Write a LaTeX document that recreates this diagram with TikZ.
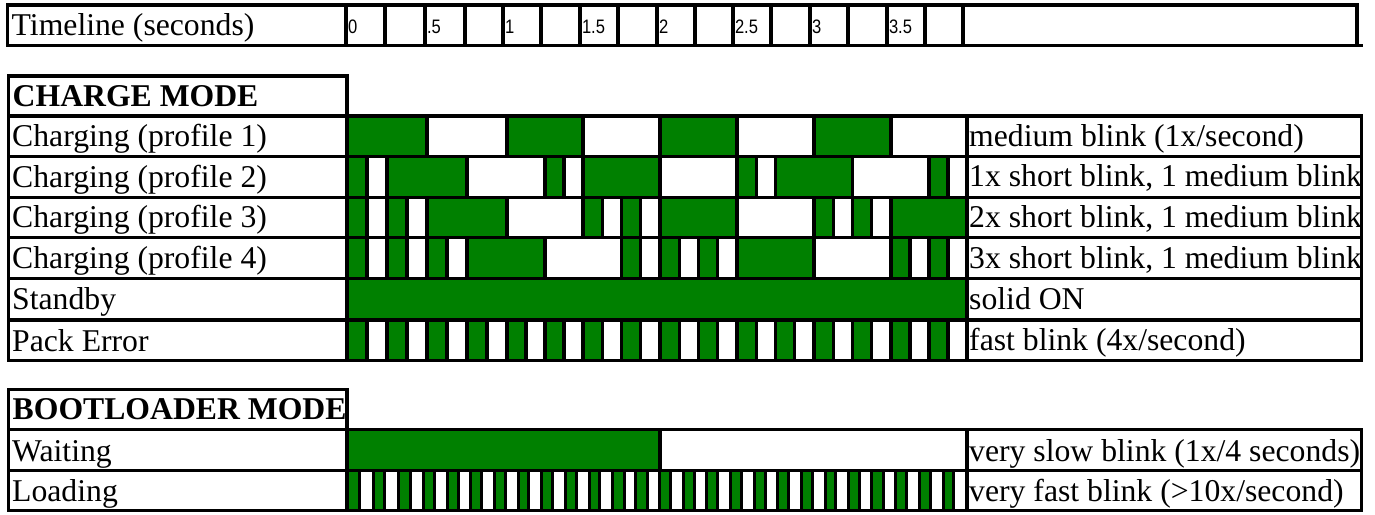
\documentclass[tikz,border=0pt]{standalone}
\usepackage{fontspec}
\usepackage{graphicx}
\setmainfont{Liberation Serif}
\newfontfamily\tickfont{Liberation Sans}
\definecolor{ledgreen}{RGB}{0,128,0}
\tikzset{
  rule/.style={line width=3.2pt, draw=black, line cap=rect},
  lbl/.style={anchor=base west, inner sep=0pt, font=\fontsize{31.7}{36}\selectfont},
  hdr/.style={anchor=base west, inner sep=0pt, font=\fontsize{31.7}{36}\selectfont\bfseries},
  desc/.style={anchor=base west, inner sep=0pt, font=\fontsize{31.7}{36}\selectfont},
  tick/.style={anchor=base west, inner sep=0pt, font=\tickfont\fontsize{19.5}{22}\selectfont},
}
\def\G{{347,367,387,407,427,447,467,487,507,526,545,564,583,602.25,621.5,640.75,660,679.25,698.5,717.75,737,756.25,775.5,794.75,814,833.25,852.5,871.75,891,910,929,948,967}}
\newcommand\ledrow[3]{%
  \foreach \a/\b in {#3} {
    \pgfmathsetmacro\xa{\G[\a]}
    \pgfmathsetmacro\xb{\G[\b]}
    \fill[ledgreen] (\xa,#1) rectangle (\xb,#2);
    \draw[rule] (\xa,#1) -- (\xa,#2) (\xb,#1) -- (\xb,#2);
  }%
}
\begin{document}
\begin{tikzpicture}[x=1pt,y=-1pt]
\useasboundingbox (0,0) rectangle (1375,514);
% ---------- LED patterns
\ledrow{116}{156.5}{0/4,8/12,16/20,24/28}
\ledrow{156.5}{197.3}{0/1,2/6,10/11,12/16,20/21,22/26,30/31}
\ledrow{197.3}{237.8}{0/1,2/3,4/8,12/13,14/15,16/20,24/25,26/27,28/32}
\ledrow{237.8}{278.3}{0/1,2/3,4/5,6/10,14/15,16/17,18/19,20/24,28/29,30/31}
\ledrow{278.3}{320}{0/32}
\ledrow{320}{360.8}{0/1,2/3,4/5,6/7,8/9,10/11,12/13,14/15,16/17,18/19,20/21,22/23,24/25,26/27,28/29,30/31}
\ledrow{429.7}{470.7}{0/16}
\foreach \xa/\xb in {347.4/359.6,373.4/384.6,398.4/410.6,423.4/434.6,447.4/458.6,470.4/481.6,494.4/505.6,518.4/528.6,541.4/552.6,565.4/576.6,589.4/599.6,612.4/624.6,635.4/647.6,659.4/670.6,683.4/694.6,706.4/717.6,730.4/741.6,754.4/765.6,777.4/788.6,801.4/812.6,825.4/835.6,848.4/859.6,871.4/883.6,895.4/906.6,919.4/930.6,943.4/953.6} {
  \fill[ledgreen] (\xa,470.7) rectangle (\xb,510.7);
  \draw[rule] (\xa,470.7) -- (\xa,510.7) (\xb,470.7) -- (\xb,510.7);
}
% ---------- timeline table
\draw[rule] (7.7,5) rectangle (1357,45.7);
\draw[rule] (1357,45.7) -- (1361.5,45.7);
\foreach \x in {346,385,425,465,503,541,580,618,657,695,733,771,810,848,887,925,963}
  \draw[rule] (\x,5) -- (\x,45.7);
% ---------- charge mode table
\draw[rule] (8.7,76) rectangle (347,360.8);
\draw[rule] (347,116) rectangle (1361.7,360.8);
\foreach \y in {116,156.5,197.3,237.8,278.3,320}
  \draw[rule] (8.7,\y) -- (1361.7,\y);
\draw[rule] (967,116) -- (967,360.8);
% ---------- bootloader table
\draw[rule] (8.7,389.3) rectangle (347,510.7);
\draw[rule] (347,429.7) rectangle (1361.7,510.7);
\foreach \y in {429.7,470.7}
  \draw[rule] (8.7,\y) -- (1361.7,\y);
\draw[rule] (967,429.7) -- (967,510.7);
% ---------- texts
\node[lbl] (tl) at (11.5,35) {Timeline (seconds)};
\node[tick] (t0) at (347.8,33) {\scalebox{0.85}[1]{0}};
\node[tick] (t1) at (426.8,33) {\scalebox{0.85}[1]{.5}};
\node[tick] (t2) at (504.8,33) {\scalebox{0.85}[1]{1}};
\node[tick] (t3) at (581.8,33) {\scalebox{0.85}[1]{1.5}};
\node[tick] (t4) at (658.8,33) {\scalebox{0.85}[1]{2}};
\node[tick] (t5) at (734.8,33) {\scalebox{0.85}[1]{2.5}};
\node[tick] (t6) at (811.8,33) {\scalebox{0.85}[1]{3}};
\node[tick] (t7) at (888.8,33) {\scalebox{0.85}[1]{3.5}};
\node[hdr] (cm) at (12.5,106) {CHARGE MODE};
\node[lbl] (p1) at (12,146.5) {Charging (profile 1)};
\node[lbl] (p2) at (12,187) {Charging (profile 2)};
\node[lbl] (p3) at (12,227.7) {Charging (profile 3)};
\node[lbl] (p4) at (12,268) {Charging (profile 4)};
\node[lbl] (sb) at (12,309.5) {Standby};
\node[lbl] (pe) at (12,351) {Pack Error};
\begin{scope}
  \clip (8.7,389.3) rectangle (347,429.7);
  \node[hdr] (bm) at (12.5,419.5) {BOOTLOADER MODE};
\end{scope}
\node[lbl] (wt) at (12,461.5) {Waiting};
\node[lbl] (ld) at (12,501.5) {Loading};
\begin{scope}
  \clip (967,100) rectangle (1361.7,514);
  \node[desc] (d1) at (969,146.7) {medium blink (1x/second)};
  \node[desc] (d2) at (969,186.8) {1x short blink, 1 medium blink};
  \node[desc] (d3) at (969,227.7) {2x short blink, 1 medium blink};
  \node[desc] (d4) at (969,268) {3x short blink, 1 medium blink};
  \node[desc] (d5) at (969,309.3) {solid ON};
  \node[desc] (d6) at (969,350.3) {fast blink (4x/second)};
  \node[desc] (d7) at (969,461.7) {very slow blink (1x/4 seconds)};
  \node[desc] (d8) at (969,501.7) {very fast blink (>10x/second)};
\end{scope}
% redraw borders over clipped text
\draw[rule] (347,389.3) -- (347,429.7);
\draw[rule] (1361.7,116) -- (1361.7,360.8) (1361.7,429.7) -- (1361.7,510.7);
\end{tikzpicture}
\end{document}
